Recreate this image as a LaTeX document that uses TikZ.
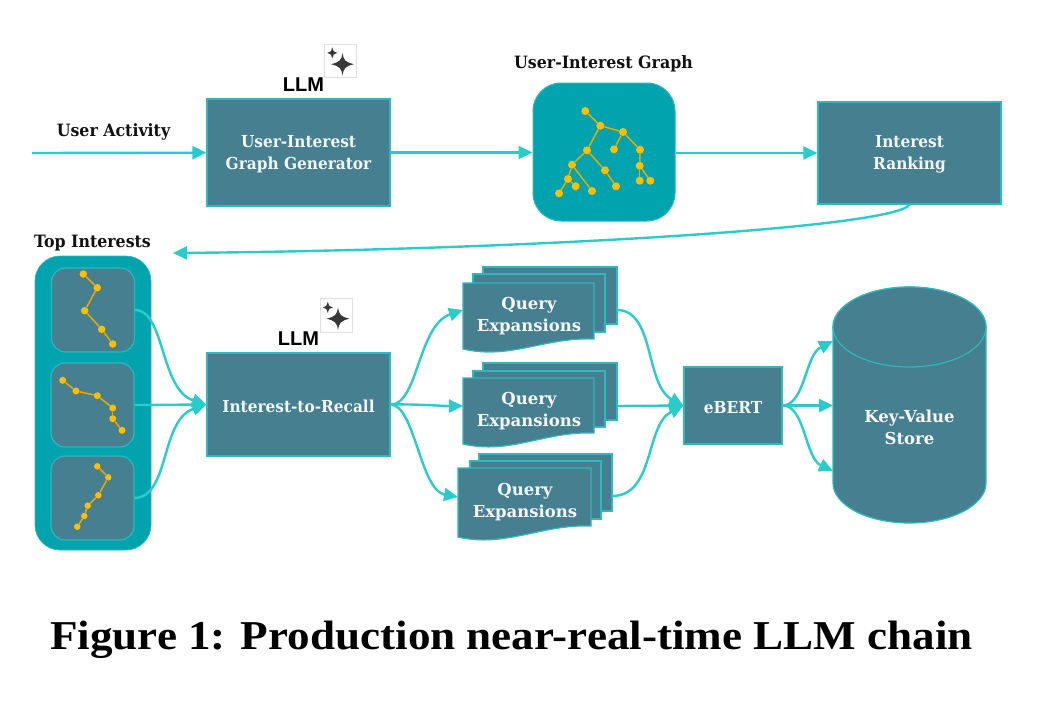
\documentclass[tikz,border=0pt]{standalone}
\usepackage{fontspec}
\setmainfont{DejaVu Serif}
\newfontfamily\slabfont[FakeStretch=0.93]{DejaVu Serif}
\newfontfamily\capfont[FakeStretch=1.1]{Liberation Serif}
\newfontfamily\llmfont{Liberation Sans}
\usetikzlibrary{arrows.meta}
\definecolor{boxfill}{HTML}{467F8F}
\definecolor{boxline}{HTML}{2BB8BE}
\definecolor{tealfill}{HTML}{00A3AE}
\definecolor{flowcol}{HTML}{2ACBCB}
\definecolor{dotcol}{HTML}{FFBE00}
\definecolor{labelcol}{HTML}{111111}
\tikzset{
    box/.style={draw=boxline, fill=boxfill, line width=1.2pt},
    boxlabel/.style={yshift=-1.7pt, text=white!94!boxfill, align=center, font=\fontsize{16.5}{22}\selectfont\slabfont\bfseries},
    stackbox/.style={draw=boxline, fill=boxfill, line width=1.2pt},
    boxtext/.style={text=white!94!boxfill, align=center, font=\fontsize{16.5}{22}\selectfont\bfseries},
    panel/.style={draw=boxline, fill=boxfill, line width=1.2pt, rounded corners=14pt, minimum width=83pt, minimum height=84pt},
    toplabel/.style={text=labelcol, font=\fontsize{17}{20}\selectfont\slabfont\bfseries},
    llmlabel/.style={text=black, font=\fontsize{20}{24}\selectfont\llmfont\bfseries},
    flow/.style={draw=flowcol, line width=2.4pt, -{Triangle[length=14pt,width=13pt]}},
    dot/.style={circle, fill=dotcol, inner sep=0pt, minimum size=8pt},
    twig/.style={draw=dotcol!90!black, line width=1.5pt},
    sparkicon/.pic={
        \draw[fill=white, draw=black!12, line width=0.8pt] (0,0) rectangle (32,33.5);
        \fill[black!78] (18,9) .. controls (19,16) and (21,18) .. (29.5,20) .. controls (21,22) and (19,24) .. (18,31.5) .. controls (17,24) and (15,22) .. (6.5,20) .. controls (15,18) and (17,16) .. (18,9) -- cycle;
        \fill[black!78] (7.8,3.2) .. controls (8.2,6.5) and (9,7.5) .. (13,8.7) .. controls (9,9.9) and (8.2,10.9) .. (7.8,14.2) .. controls (7.4,10.9) and (6.6,9.9) .. (2.6,8.7) .. controls (6.6,7.5) and (7.4,6.5) .. (7.8,3.2) -- cycle;
    }
}
\begin{document}
\begin{tikzpicture}[x=1pt, y=-1pt]
    \useasboundingbox (0,0) rectangle (1052,716);

    % obere Reihe
    \coordinate (activity) at (32,153);
    \node[box, minimum width=183pt, minimum height=107pt, label={[boxlabel]center:{User-Interest\\Graph Generator}}] (generator) at (298.5,152.5) {};
    \node[draw=boxline, fill=tealfill, line width=1pt, rounded corners=28pt, minimum width=142pt, minimum height=138pt] (graph) at (604,152) {};
    \node[box, minimum width=183pt, minimum height=102pt, label={[boxlabel]center:{Interest\\Ranking}}] (ranking) at (909.5,153) {};

    \node[toplabel] (activitylabel) at (113.5,132) {User Activity};
    \node[toplabel] (graphlabel) at (603.5,64) {User-Interest Graph};
    \node[llmlabel] (llmtop) at (303.5,85) {LLM};
    \pic at (324.5,44.2) {sparkicon};

    % Baum im Graph-Kasten
    \foreach \n/\x/\y in {ga/585.3/111, gb/600.3/125.7, gc/623/132, gd/587/150.3, ge/614/149.3, gf/640/149.7, gg/572/164.7, gh/639.7/165.7, gi/605/170.3, gj/568/179, gk/575.7/186.3, gl/616/186.3, gm/592/191, gn/559/193.3, go/639.7/180.7, gp/650.3/180.7}
        \node[dot] (\n) at (\x,\y) {};
    \foreach \a/\b in {ga/gb, gb/gc, gb/gd, gc/ge, gc/gf, gd/gg, gd/gi, gf/gh, gg/gj, gg/gm, gj/gk, gj/gn, gi/gl, gh/go, gh/gp}
        \draw[twig] (\a) -- (\b);

    % Top Interests
    \node[toplabel] (toplabel) at (92.5,243) {Top Interests};
    \node[draw=boxline, fill=tealfill, line width=0.6pt, rounded corners=25pt, minimum width=116pt, minimum height=294pt] (tops) at (93,403) {};
    \node[panel] (panela) at (93,310) {};
    \node[panel] (panelb) at (92.5,405) {};
    \node[panel] (panelc) at (92.5,498) {};

    \foreach \n/\x/\y in {aa/83.3/274, ab/97.3/287.7, ac/84.7/310.7, ad/101.7/329.3, ae/112.7/344}
        \node[dot, minimum size=7.5pt] (\n) at (\x,\y) {};
    \foreach \a/\b in {aa/ab, ab/ac, ac/ad, ad/ae}
        \draw[twig] (\a) -- (\b);
    \foreach \n/\x/\y in {ba/62.7/380.3, bb/76/391, bc/97.3/395.7, bd/112.7/408, be/112.7/418.7, bf/122/430.3}
        \node[dot, minimum size=7pt] (\n) at (\x,\y) {};
    \foreach \a/\b in {ba/bb, bb/bc, bc/bd, bd/be, be/bf}
        \draw[twig] (\a) -- (\b);
    \foreach \n/\x/\y in {ca/97.3/466.3, cb/108.3/477.3, cc/98.3/495.3, cd/87.7/505.7, ce/84.3/516, cf/77.3/526.7}
        \node[dot, minimum size=6.5pt] (\n) at (\x,\y) {};
    \foreach \a/\b in {ca/cb, cb/cc, cc/cd, cd/ce, ce/cf}
        \draw[twig] (\a) -- (\b);

    % mittlere Reihe
    \node[box, minimum width=183pt, minimum height=103pt, label={[boxlabel]center:Interest-to-Recall}] (recall) at (298.5,404.5) {};
    \node[llmlabel] (llmmid) at (298.5,339) {LLM};
    \pic at (320,298.7) {sparkicon};

    % Query Expansions (je drei Blaetter)
    \draw[stackbox] (483,267) rectangle (617,324);
    \draw[stackbox] (473,274) rectangle (605,332);
    \draw[stackbox] (463,283) -- (594,283) -- (594,339) .. controls (545,337) and (510,360) .. (463,349) -- cycle;
    \node[boxtext] (querya) at (529,316) {Query\\Expansions};
    \coordinate (queryain) at (463,310);
    \coordinate (queryaout) at (617,310);

    \draw[stackbox] (483,363) rectangle (617,420);
    \draw[stackbox] (473,371) rectangle (605,427);
    \draw[stackbox] (463,378) -- (594,378) -- (594,433) .. controls (545,431) and (510,455) .. (463,444) -- cycle;
    \node[boxtext] (queryb) at (529,411) {Query\\Expansions};
    \coordinate (querybin) at (463,406);
    \coordinate (querybout) at (617,406);

    \draw[stackbox] (479,454) rectangle (612,511);
    \draw[stackbox] (470,461) rectangle (601,519);
    \draw[stackbox] (458,468) -- (591,468) -- (591,526) .. controls (542,524) and (505,548) .. (458,537) -- cycle;
    \node[boxtext] (queryc) at (525,502) {Query\\Expansions};
    \coordinate (querycin) at (458,497);
    \coordinate (querycout) at (612,496);

    \node[box, minimum width=98pt, minimum height=77pt, label={[boxlabel]center:eBERT}] (ebert) at (733,405.5) {};

    % Key-Value Store
    \draw[stackbox] (833,327) -- (833,483) arc (180:0:76.5 and 40) -- (986,327) arc (0:-180:76.5 and 40) -- cycle;
    \draw[stackbox] (909.5,327) ellipse (76.5 and 40);
    \node[boxtext] (store) at (909.5,427) {Key-Value\\Store};
    \coordinate (storea) at (833,341);
    \coordinate (storeb) at (833,405.5);
    \coordinate (storec) at (833,471);

    % Pfeile
    \draw[flow] (activity) -- (generator);
    \draw[flow] (generator) -- (graph.west |- generator);
    \draw[flow] (graph.east |- ranking) -- (ranking);
    \draw[flow] (ranking.south) .. controls (895,228) and (520,250) .. (173,253);

    \draw[flow] (panela.east) .. controls (165,310) and (160,390) .. (recall.west);
    \draw[flow] (panelb.east) -- (recall.west);
    \draw[flow] (panelc.east) .. controls (170,497) and (160,420) .. (recall.west);

    \draw[flow] (recall.east) .. controls (418,405) and (418,325) .. (queryain);
    \draw[flow] (recall.east) .. controls (420,404) and (440,406) .. (querybin);
    \draw[flow] (recall.east) .. controls (415,405) and (420,490) .. (querycin);

    \draw[flow] (queryaout) .. controls (655,310) and (645,385) .. (ebert.west);
    \draw[flow] (querybout) -- (ebert.west);
    \draw[flow] (querycout) .. controls (655,496) and (645,425) .. (ebert.west);

    \draw[flow] (ebert.east) .. controls (805,405) and (805,355) .. (storea);
    \draw[flow] (ebert.east) -- (storeb);
    \draw[flow] (ebert.east) .. controls (805,405) and (805,458) .. (storec);

    % Bildunterschrift
    \node[text=black, font=\fontsize{41}{46}\selectfont\capfont\bfseries] (caption) at (511.5,640) {Figure 1: Production near-real-time LLM chain};
\end{tikzpicture}
\end{document}
